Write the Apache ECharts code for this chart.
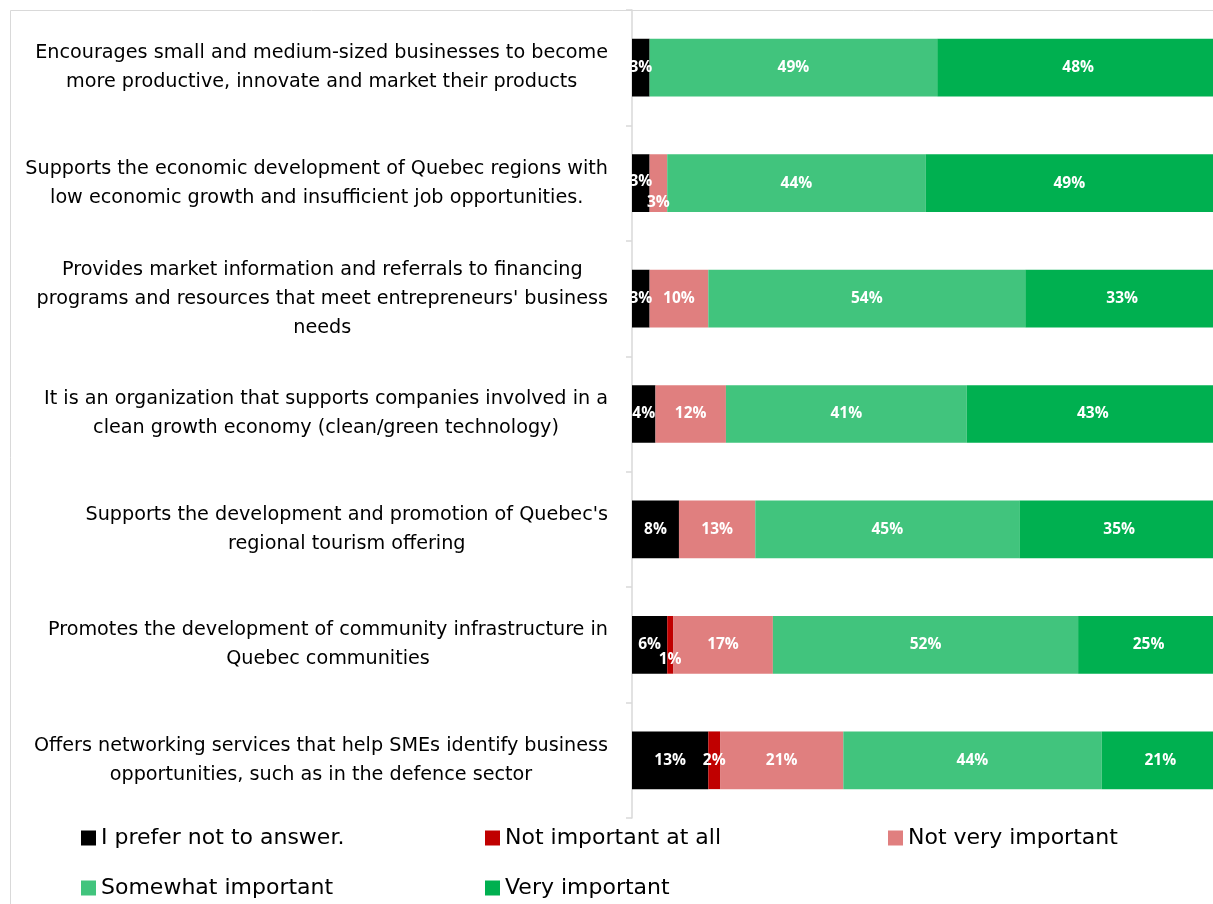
<!DOCTYPE html>
<html>
<head>
<meta charset="utf-8">
<script src="https://cdn.jsdelivr.net/npm/echarts@6/dist/echarts.min.js"></script>
<style>
  html, body { margin: 0; padding: 0; background: #fff; }
  #chart { width: 1213px; height: 904px; }
</style>
</head>
<body>
<div id="chart"></div>
<script>
// categories (top to bottom), each line of the axis label separate
const categories = [
  ["Encourages small and medium-sized businesses to become", "more productive, innovate and market their products"],
  ["Supports the economic development of Quebec regions with", "low economic growth and insufficient job opportunities."],
  ["Provides market information and referrals to financing", "programs and resources that meet entrepreneurs' business", "needs"],
  ["It is an organization that supports companies involved in a", "clean growth economy (clean/green technology)"],
  ["Supports the development and promotion of Quebec's", "regional tourism offering"],
  ["Promotes the development of community infrastructure in", "Quebec communities"],
  ["Offers networking services that help SMEs identify business", "opportunities, such as in the defence sector"]
];

const seriesNames = ["I prefer not to answer.", "Not important at all", "Not very important", "Somewhat important", "Very important"];

const preferNot     = [3, 3, 3, 4, 8, 6, 13];
const notAtAll      = [0, 0, 0, 0, 0, 1, 2];
const notVery       = [0, 3, 10, 12, 13, 17, 21];
const somewhat      = [49, 44, 54, 41, 45, 52, 44];
const veryImportant = [48, 49, 33, 43, 35, 25, 21];

const colors = ["#000000", "#c00000", "#e07f7f", "#41c47d", "#00b050"];

// small labels that Excel nudged off each other: [series, row, dy]
const labelNudge = [[0, 1, -2], [2, 1, 19], [1, 5, 15]];

const values = [preferNot, notAtAll, notVery, somewhat, veryImportant];

const TEXT_FONT = "'DejaVu Sans', sans-serif";
const LABEL_FONT = "'Open Sans', 'Noto Sans', sans-serif";

const series = values.map((arr, si) => ({
  name: seriesNames[si],
  type: "bar",
  stack: "total",
  barWidth: "50%",
  itemStyle: { color: colors[si] },
  label: {
    show: true,
    position: "inside",
    color: "#fff",
    fontWeight: "bold",
    fontSize: 15.5,
    fontFamily: LABEL_FONT,
    formatter: (p) => (p.value ? p.value + "%" : "")
  },
  data: arr.map((v, ri) => {
    const n = labelNudge.find((d) => d[0] === si && d[1] === ri);
    return n ? { value: v, label: { offset: [0, n[2]] } } : v;
  })
}));

const legends = seriesNames.map((name, i) => ({
  data: [name],
  left: [76, 480, 883, 76, 480][i],
  top: [822, 822, 822, 872, 872][i],
  icon: "rect",
  itemWidth: 15,
  itemHeight: 15,
  itemGap: 0,
  selectedMode: false,
  textStyle: { fontSize: 22, color: "#000", fontFamily: TEXT_FONT }
}));

const chart = echarts.init(document.getElementById("chart"));
chart.setOption({
  backgroundColor: "#fff",
  animation: false,
  grid: { left: 632, width: 587, top: 10, height: 808, containLabel: false, outerBoundsMode: "none" },
  xAxis: {
    type: "value",
    min: 0,
    max: 100,
    show: false
  },
  yAxis: {
    type: "category",
    inverse: true,
    data: categories.map((c) => c.join("\n")),
    axisLine: { show: true, lineStyle: { color: "#d9d9d9", width: 1.5 } },
    axisTick: { show: true, length: 6, lineStyle: { color: "#d9d9d9", width: 1.5 } },
    axisLabel: {
      margin: 24,
      color: "#000",
      fontSize: 19.2,
      fontFamily: TEXT_FONT,
      lineHeight: 29,
      formatter: (v) => v.split("\n").map((l) => "{c|" + l + "}").join("\n"),
      rich: { c: { align: "center", fontSize: 19.2, fontFamily: TEXT_FONT, lineHeight: 29, color: "#000" } }
    }
  },
  legend: legends,
  graphic: [
    {
      type: "rect",
      shape: { x: 10.5, y: 10.5, width: 1220, height: 900 },
      style: { fill: "none", stroke: "#d9d9d9", lineWidth: 1 },
      silent: true,
      z: -1
    }
  ],
  series: series
});
</script>
</body>
</html>
